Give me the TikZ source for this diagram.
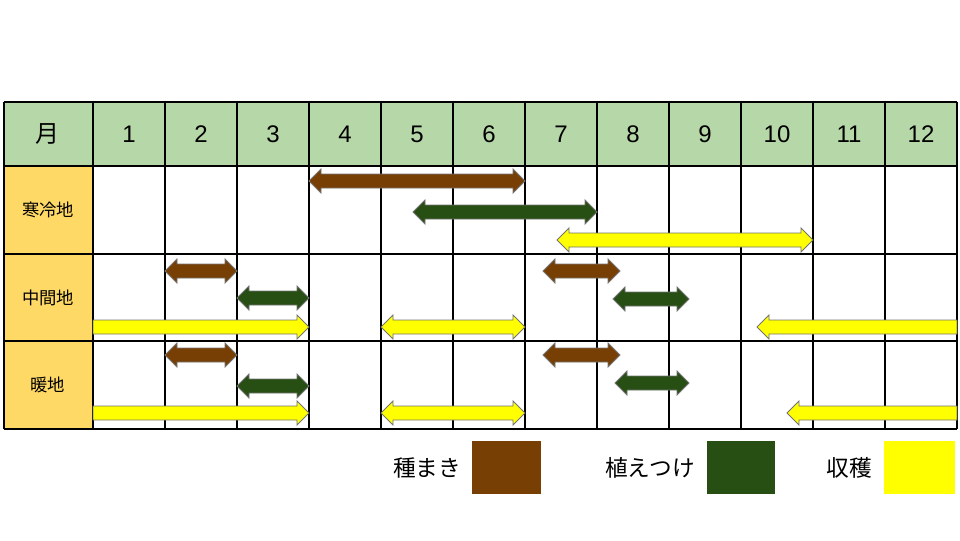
\documentclass[tikz,border=0pt]{standalone}
\usepackage{fontspec}
\setmainfont{Liberation Sans}
\newfontfamily\jp{Noto Sans CJK JP}
\definecolor{headgreen}{RGB}{182,215,168}
\definecolor{regionyellow}{RGB}{255,217,102}
\definecolor{sowbrown}{RGB}{120,63,4}
\definecolor{plantgreen}{RGB}{39,78,19}
\definecolor{harvestyellow}{RGB}{255,255,0}
% block arrows: {x1}{x2}{y}{colour}
\newcommand{\bothArrow}[4]{\draw[arrowbox,fill=#4] (#1,#3) -- ({#1+12},{#3-12}) -- ({#1+12},{#3-7}) -- ({#2-12},{#3-7}) -- ({#2-12},{#3-12}) -- (#2,#3) -- ({#2-12},{#3+12}) -- ({#2-12},{#3+7}) -- ({#1+12},{#3+7}) -- ({#1+12},{#3+12}) -- cycle;}
\newcommand{\rightArrow}[4]{\draw[arrowbox,fill=#4] (#1,{#3-7}) -- ({#2-12},{#3-7}) -- ({#2-12},{#3-12}) -- (#2,#3) -- ({#2-12},{#3+12}) -- ({#2-12},{#3+7}) -- (#1,{#3+7}) -- cycle;}
\newcommand{\leftArrow}[4]{\draw[arrowbox,fill=#4] (#2,{#3-7}) -- ({#1+12},{#3-7}) -- ({#1+12},{#3-12}) -- (#1,#3) -- ({#1+12},{#3+12}) -- ({#1+12},{#3+7}) -- (#2,{#3+7}) -- cycle;}
\begin{document}
\begin{tikzpicture}[x=0.75pt, y=-0.75pt,
    arrowbox/.style={draw=black!55, line width=0.6pt},
    grid/.style={draw=black, line width=1pt},
    month/.style={font=\fontsize{18}{20}\selectfont},
    region/.style={font=\jp\fontsize{13}{15}\selectfont},
    legend/.style={font=\jp\fontsize{17}{19}\selectfont}]
  \useasboundingbox (0,0) rectangle (960,540);
  % header and region column
  \fill[headgreen] (4,102) rectangle (957,166);
  \fill[regionyellow] (4,166) rectangle (93,429);
  % grid
  \foreach \y in {102,166,254,341,429} \draw[grid] (4,\y) -- (957,\y);
  \draw[grid] (4,102) -- (4,429);
  \foreach \m in {0,...,12} \draw[grid] ({93+72*\m},102) -- ({93+72*\m},429);
  % labels
  \node[region, font=\jp\fontsize{18}{20}\selectfont] (hdr) at (48,134) {月};
  \foreach \m in {1,...,12} \node[month] (m\m) at ({57+72*\m},134) {\m};
  \node[region] (cold) at (48,210) {寒冷地};
  \node[region] (mid) at (48,298) {中間地};
  \node[region] (warm) at (48,385) {暖地};
  % cold region
  \bothArrow{309}{525}{181}{sowbrown}
  \bothArrow{413}{597}{212}{plantgreen}
  \bothArrow{557}{813}{240}{harvestyellow}
  % middle region
  \bothArrow{165}{237}{271}{sowbrown}
  \bothArrow{237}{309}{298}{plantgreen}
  \rightArrow{93}{309}{327}{harvestyellow}
  \bothArrow{381}{525}{327}{harvestyellow}
  \bothArrow{543}{620}{271}{sowbrown}
  \bothArrow{613}{689}{299}{plantgreen}
  \leftArrow{757}{957}{327}{harvestyellow}
  % warm region
  \bothArrow{165}{237}{355}{sowbrown}
  \bothArrow{237}{309}{386}{plantgreen}
  \rightArrow{93}{309}{413}{harvestyellow}
  \bothArrow{381}{525}{413}{harvestyellow}
  \bothArrow{543}{620}{355}{sowbrown}
  \bothArrow{615}{689}{383}{plantgreen}
  \leftArrow{787}{957}{413}{harvestyellow}
  % legend
  \node[legend, anchor=east] (sow) at (466,468) {種まき};
  \fill[sowbrown] (472,441) rectangle (541,494);
  \node[legend, anchor=east] (plant) at (700,468) {植えつけ};
  \fill[plantgreen] (707,441) rectangle (775,494);
  \node[legend, anchor=east] (harvest) at (877,468) {収穫};
  \fill[harvestyellow] (884,441) rectangle (955,494);
\end{tikzpicture}
\end{document}
